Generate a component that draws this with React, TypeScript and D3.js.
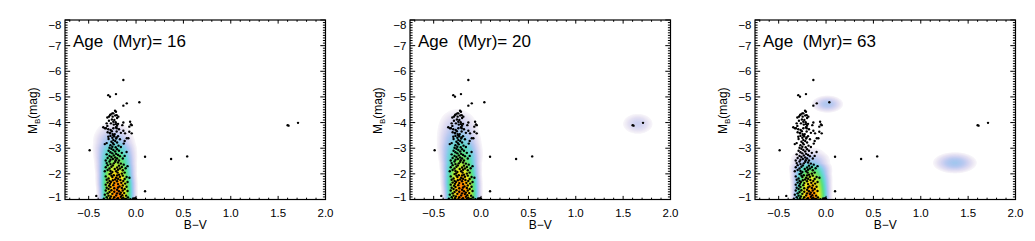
import React, { useMemo } from "react";
import * as d3 from "d3";

// ---------------- data ----------------
const ageLabels = ["16", "20", "63"];
const bvTicks = [-0.5, 0, 0.5, 1, 1.5, 2];
const magTicks = [-8, -7, -6, -5, -4, -3, -2, -1];
const bvDomain: [number, number] = [-0.75, 2.0];
const magDomain: [number, number] = [-1, -8];

// observed stars [B-V, M_B]
const stars: [number, number][] = [
  [-0.49, -2.92], [-0.42, -1.14], [-0.134, -5.66], [-0.293, -5.07], [-0.275, -5.01], [-0.212, -5.11],
  [-0.098, -4.75], [-0.134, -4.66], [0.035, -4.79], [-0.212, -4.42], [0.095, -2.67], [0.37, -2.58],
  [0.54, -2.68], [0.095, -1.32], [1.6, -3.9], [1.61, -3.88], [1.71, -3.99], [-0.01, -1.05], [0.0, -1.02],
  [-0.222, -4.46], [-0.24, -4.36], [-0.275, -4.29], [-0.204, -4.29], [-0.303, -4.2], [-0.187, -4.23],
  [-0.286, -4.07], [-0.24, -4.03], [-0.31, -3.97], [-0.212, -3.94], [-0.134, -4.0], [-0.046, -3.9],
  [-0.317, -3.78], [-0.204, -3.78], [-0.134, -3.68], [-0.071, -3.64], [-0.046, -3.58], [-0.275, -3.6],
  [-0.247, -3.55], [-0.293, -3.45], [-0.233, -3.48], [-0.098, -3.39],
  [-0.268, -4.32], [-0.286, -4.23], [-0.247, -4.23], [-0.229, -4.1], [-0.215, -4.01], [-0.265, -3.97],
  [-0.063, -4.03], [-0.053, -3.93], [-0.071, -3.84], [-0.303, -3.87], [-0.346, -3.82], [-0.328, -3.78],
  [-0.293, -3.74], [-0.268, -3.71], [-0.24, -3.78], [-0.212, -3.82], [-0.116, -3.58], [-0.275, -3.58],
  [-0.24, -3.51], [-0.081, -3.39], [-0.25, -4.36], [-0.22, -4.28], [-0.2, -4.18], [-0.255, -4.12],
  [-0.19, -3.95], [-0.235, -3.92], [-0.18, -3.74], [-0.205, -3.65], [-0.255, -3.66], [-0.16, -3.6],
  [-0.225, -3.55], [-0.3, -3.62], [-0.2, -3.88], [-0.145, -3.9],
  [-0.27, -3.48], [-0.23, -3.46], [-0.19, -3.47], [-0.25, -3.41], [-0.21, -3.38], [-0.29, -3.36],
  [-0.17, -3.35], [-0.24, -3.32], [-0.22, -3.28], [-0.26, -3.25], [-0.31, -3.2], [-0.2, -3.22],
  [-0.13, -3.18], [-0.235, -3.15], [-0.27, -3.12], [-0.185, -3.1], [-0.25, -3.06], [-0.215, -3.04],
  [-0.28, -3.02], [-0.16, -3.05], [-0.33, -3.16], [-0.12, -3.28], [-0.205, -3.42], [-0.245, -3.2],
  [-0.26, -2.98], [-0.2, -2.96], [-0.24, -2.93], [-0.29, -2.9], [-0.18, -2.9], [-0.22, -2.87],
  [-0.27, -2.84], [-0.15, -2.82], [-0.25, -2.8], [-0.21, -2.78], [-0.31, -2.76], [-0.19, -2.74],
  [-0.235, -2.72], [-0.28, -2.7], [-0.17, -2.69], [-0.26, -2.66], [-0.22, -2.64], [-0.3, -2.62],
  [-0.2, -2.6], [-0.245, -2.58], [-0.14, -2.6], [-0.27, -2.55], [-0.215, -2.53], [-0.18, -2.52],
  [-0.32, -2.52], [-0.12, -2.7], [-0.1, -2.85],
  [-0.28, -2.48], [-0.22, -2.47], [-0.19, -2.44], [-0.31, -2.42], [-0.235, -2.41],
  [-0.16, -2.4], [-0.27, -2.38], [-0.13, -2.36], [-0.3, -2.34], [-0.245, -2.33],
  [-0.18, -2.32], [-0.26, -2.28], [-0.15, -2.27], [-0.32, -2.26], [-0.2, -2.25],
  [-0.28, -2.21], [-0.17, -2.21], [-0.11, -2.22], [-0.225, -2.19],
  [-0.19, -2.16], [-0.3, -2.15], [-0.14, -2.14], [-0.27, -2.11], [-0.21, -2.1],
  [-0.25, -2.07], [-0.12, -2.05], [-0.195, -2.05],
  [-0.265, -2.02], [-0.15, -2.01], [-0.33, -2.1], [-0.09, -2.3],
  [-0.28, -1.99], [-0.18, -1.97], [-0.2, -1.94], [-0.26, -1.93],
  [-0.14, -1.93], [-0.32, -1.9], [-0.17, -1.89], [-0.25, -1.88], [-0.1, -1.88],
  [-0.21, -1.85], [-0.29, -1.82], [-0.19, -1.81],
  [-0.12, -1.8], [-0.22, -1.78], [-0.31, -1.77], [-0.165, -1.76], [-0.245, -1.75],
  [-0.28, -1.72], [-0.135, -1.72], [-0.2, -1.71], [-0.265, -1.68],
  [-0.09, -1.68], [-0.3, -1.66], [-0.155, -1.65], [-0.23, -1.64],
  [-0.115, -1.62], [-0.275, -1.61], [-0.19, -1.6], [-0.32, -1.58],
  [-0.24, -1.56], [-0.14, -1.55], [-0.285, -1.54], [-0.175, -1.51],
  [-0.1, -1.5], [-0.07, -1.85], [-0.235, -1.95],
  [-0.27, -1.49], [-0.19, -1.47], [-0.31, -1.46], [-0.15, -1.45], [-0.23, -1.44],
  [-0.29, -1.41], [-0.12, -1.41], [-0.2, -1.38],
  [-0.26, -1.36], [-0.32, -1.35], [-0.14, -1.35], [-0.09, -1.33], [-0.18, -1.32],
  [-0.23, -1.3], [-0.28, -1.29], [-0.16, -1.27], [-0.3, -1.24], [-0.2, -1.24],
  [-0.125, -1.25], [-0.25, -1.22], [-0.17, -1.21], [-0.33, -1.19],
  [-0.145, -1.17], [-0.21, -1.16], [-0.29, -1.15], [-0.105, -1.15],
  [-0.265, -1.12], [-0.16, -1.11], [-0.31, -1.09], [-0.23, -1.09], [-0.135, -1.07],
  [-0.19, -1.05], [-0.275, -1.05], [-0.34, -1.03], [-0.15, -1.02],
  [-0.24, -1.01], [-0.115, -1.02], [-0.085, -1.08], [-0.06, -1.01],
  [-0.03, -1.04], [-0.205, -1.0],
];

// model main-sequence ridge (knots in M_B) per age
const ridgeMag = [-0.8, -1.2, -1.6, -2.0, -2.4, -2.8, -3.2, -3.6, -4.0, -4.4, -4.8];
const ridgeAmp16 = [1, 1, 0.95, 0.66, 0.4, 0.25, 0.12, 0.055, 0.016, 0.0, 0.0];
const ridgeAmp20 = [1, 1, 0.95, 0.67, 0.4, 0.26, 0.15, 0.09, 0.055, 0.022, 0.0];
const ridgeAmp63 = [1, 0.97, 0.7, 0.38, 0.11, 0.035, 0.0, 0.0, 0.0, 0.0, 0.0];
const ridgeCenter16 = [-0.2, -0.2, -0.205, -0.21, -0.215, -0.22, -0.23, -0.24, -0.245, -0.25, -0.25];
const ridgeCenter20 = [-0.2, -0.2, -0.205, -0.21, -0.215, -0.22, -0.23, -0.24, -0.245, -0.25, -0.25];
const ridgeCenter63 = [-0.155, -0.155, -0.155, -0.16, -0.165, -0.17, -0.17, -0.17, -0.17, -0.17, -0.17];
const ridgeSigma16 = [0.075, 0.075, 0.077, 0.08, 0.088, 0.098, 0.11, 0.12, 0.12, 0.12, 0.12];
const ridgeSigma20 = [0.075, 0.075, 0.077, 0.08, 0.088, 0.1, 0.11, 0.118, 0.122, 0.124, 0.124];
const ridgeSigma63 = [0.077, 0.077, 0.08, 0.088, 0.105, 0.125, 0.13, 0.13, 0.13, 0.13, 0.13];

// extra model clumps [B-V, M_B, sigma B-V, sigma M, amplitude]
const clumps16: number[][] = [];
const clumps20: number[][] = [[1.655, -3.95, 0.1, 0.25, 0.05]];
const clumps63: number[][] = [
  [0.015, -4.72, 0.092, 0.185, 0.075],
  [1.36, -2.43, 0.124, 0.22, 0.085],
];

const colorStops = [0.015, 0.022, 0.03, 0.045, 0.06, 0.08, 0.11, 0.16, 0.25, 0.4, 0.55, 0.75, 1.0];
const colorValues = [
  "#f8f6fa", "#efebf5", "#e4e0f2", "#d2d3f1", "#bccaf0", "#a6c6ef", "#80d0e6",
  "#5fd9c6", "#58e07c", "#a8e83c", "#eeea22", "#ffb400", "#ff7400",
];

const panels = [
  { amp: ridgeAmp16, center: ridgeCenter16, sigma: ridgeSigma16, clumps: clumps16 },
  { amp: ridgeAmp20, center: ridgeCenter20, sigma: ridgeSigma20, clumps: clumps20 },
  { amp: ridgeAmp63, center: ridgeCenter63, sigma: ridgeSigma63, clumps: clumps63 },
];

// ---------------- layout ----------------
const W = 1035, H = 241, PANEL_W = 345;
const L = 65, R = 325.5, T = 20, B = 199.5;
const FONT = "'Liberation Sans', Arial, Helvetica, sans-serif";

const x = d3.scaleLinear().domain(bvDomain).range([L, R]);
const y = d3.scaleLinear().domain(magDomain).range([B, T]);
const color = d3.scaleLinear<string>().domain(colorStops).range(colorValues).clamp(true);

function Density({ idx }: { idx: number }) {
  const paths = useMemo(() => {
    const p = panels[idx];
    const ampS = d3.scaleLinear().domain(ridgeMag).range(p.amp).clamp(true);
    const cenS = d3.scaleLinear().domain(ridgeMag).range(p.center).clamp(true);
    const sigS = d3.scaleLinear().domain(ridgeMag).range(p.sigma).clamp(true);
    const nx = Math.ceil(R - L), ny = Math.ceil(B - T);
    const vals = new Array(nx * ny).fill(0);
    for (let j = 0; j < ny; j++) {
      const m = y.invert(T + j + 0.5);
      const a = ampS(m), c = cenS(m), s = sigS(m);
      for (let i = 0; i < nx; i++) {
        const bv = x.invert(L + i + 0.5);
        const d = (bv - c) / s;
        let v = a * Math.exp(-0.5 * d * d);
        for (const [cx, cy, sx, sy, aa] of p.clumps) {
          const dx = (bv - cx) / sx, dy = (m - cy) / sy;
          v += aa * Math.exp(-0.5 * (dx * dx + dy * dy));
        }
        vals[j * nx + i] = v;
      }
    }
    const levels = d3.range(70).map((i) => 0.015 * Math.pow(1 / 0.015, i / 69));
    const cs = d3.contours().size([nx, ny]).smooth(true).thresholds(levels)(vals);
    const gp = d3.geoPath(d3.geoIdentity().scale(1).translate([L, T]) as any);
    return cs.map((c) => ({ d: gp(c as any) || "", fill: color(c.value) }));
  }, [idx]);
  return (
    <g>
      {paths.map((p, i) => (
        <path key={i} d={p.d} fill={p.fill} stroke="none" />
      ))}
    </g>
  );
}

function Panel({ idx }: { idx: number }) {
  const clipId = `clip${idx}`;
  const bvMinor = d3.range(-0.7, 2.0001, 0.1).filter((v) => !bvTicks.some((t) => Math.abs(t - v) < 1e-6));
  const magMinor = d3
    .range(-8, -1.0001, 0.1)
    .map((v) => Math.round(v * 10) / 10)
    .filter((v) => Math.abs(v - Math.round(v)) > 1e-6);
  const xMaj = 3.6, xMin = 1.8, yMaj = 5.2, yMin = 2.6;
  return (
    <g transform={`translate(${idx * PANEL_W},0)`}>
      <defs>
        <clipPath id={clipId}>
          <rect x={L} y={T} width={R - L} height={B - T} />
        </clipPath>
      </defs>
      <g clipPath={`url(#${clipId})`}>
        <Density idx={idx} />
        {stars.map(([bv, m], i) => (
          <circle key={i} cx={x(bv)} cy={y(m)} r={1.2} fill="#000" />
        ))}
      </g>
      <g stroke="#000" strokeWidth={1}>
        {bvTicks.map((t) => (
          <g key={`bx${t}`}>
            <line x1={x(t)} x2={x(t)} y1={B} y2={B - xMaj} />
            <line x1={x(t)} x2={x(t)} y1={T} y2={T + xMaj} />
          </g>
        ))}
        {bvMinor.map((t) => (
          <g key={`bm${t}`}>
            <line x1={x(t)} x2={x(t)} y1={B} y2={B - xMin} />
            <line x1={x(t)} x2={x(t)} y1={T} y2={T + xMin} />
          </g>
        ))}
        {magTicks.map((t) => (
          <g key={`my${t}`}>
            <line x1={L} x2={L + yMaj} y1={y(t)} y2={y(t)} />
            <line x1={R} x2={R - yMaj} y1={y(t)} y2={y(t)} />
          </g>
        ))}
        {magMinor.map((t) => (
          <g key={`mm${t}`}>
            <line x1={L} x2={L + yMin} y1={y(t)} y2={y(t)} />
            <line x1={R} x2={R - yMin} y1={y(t)} y2={y(t)} />
          </g>
        ))}
      </g>
      <rect x={L} y={T} width={R - L} height={B - T} fill="none" stroke="#000" strokeWidth={1.2} />
      <g fontFamily={FONT} fontSize={11.5} fill="#000">
        {bvTicks.map((t) => (
          <text key={`lx${t}`} x={x(t)} y={B + 17} textAnchor="middle">
            {t < 0 ? `\u2212${Math.abs(t).toFixed(1)}` : t.toFixed(1)}
          </text>
        ))}
        {magTicks.map((t) => (
          <text
            key={`ly${t}`}
            x={L - 3.5}
            y={y(t)}
            dy={t === -8 ? "0.75em" : t === -1 ? "0.1em" : "0.35em"}
            textAnchor="end"
          >
            {`\u2212${Math.abs(t)}`}
          </text>
        ))}
      </g>
      <text x={(L + R) / 2} y={229} textAnchor="middle" fontFamily={FONT} fontSize={12}>
        B{"\u2212"}V
      </text>
      <text
        transform={`translate(37,${(T + B) / 2 + 1}) rotate(-90)`}
        textAnchor="middle"
        fontFamily={FONT}
        fontSize={12}
      >
        M
        <tspan fontSize={8} dy={3}>B</tspan>
        <tspan dy={-3}>(mag)</tspan>
      </text>
      <text x={L + 8} y={47} fontFamily={FONT} fontSize={17} style={{ whiteSpace: "pre" }}>
        {`Age  (Myr)= ${ageLabels[idx]}`}
      </text>
    </g>
  );
}

export default function App() {
  return (
    <svg
      width={W}
      height={H}
      viewBox={`0 0 ${W} ${H}`}
      style={{ position: "absolute", left: 0, top: 0, background: "#fff" }}
    >
      <rect x={0} y={0} width={W} height={H} fill="#fff" />
      {ageLabels.map((_, i) => (
        <Panel key={i} idx={i} />
      ))}
    </svg>
  );
}
